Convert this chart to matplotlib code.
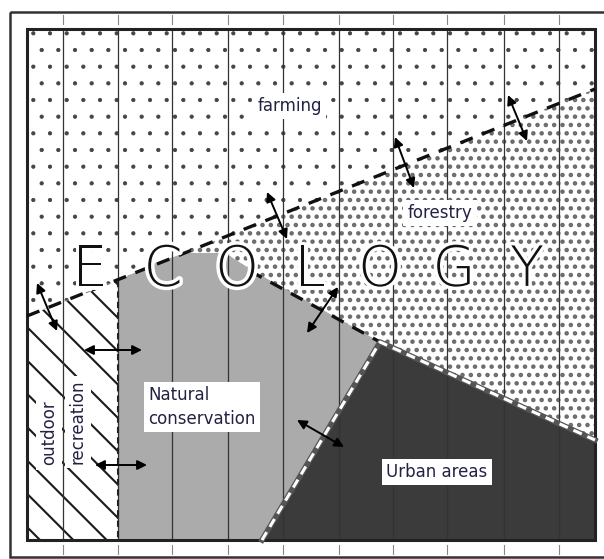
import numpy as np
import matplotlib.pyplot as plt
from matplotlib.patches import Polygon, Rectangle
import matplotlib.patheffects as pe

# diagram geometry (pixel units, y down)
inner_box = (27, 29, 595, 540)
grid_x = [63, 118, 172, 228, 283, 339, 393, 447, 504, 559]

farm_line = [(27, 316), (595, 89)]
forestry_poly = [(27, 316), (595, 89), (595, 540), (27, 540)]
conservation_poly = [(118, 281), (150, 265), (185, 253), (225, 253), (255, 272),
                     (380, 342), (262, 540), (118, 540)]
urban_poly = [(380, 342), (595, 440), (595, 540), (262, 540)]
recreation_poly = [(27, 316), (118, 281), (118, 540), (27, 540)]

cons_forest_edge = [(250, 271), (380, 342)]
rec_cons_edge = [(118, 281), (118, 540)]
urban_edge = [(262, 540), (380, 342), (595, 440)]

arrows = [((508, 95), (527, 141)), ((395, 137), (414, 188)), ((267, 192), (287, 239)),
          ((37, 283), (57, 331)), ((338, 287), (307, 333)), ((84, 350), (142, 350)),
          ((95, 465), (147, 465)), ((297, 420), (344, 447))]

eco_letters = ["E", "C", "O", "L", "O", "G", "Y"]
eco_x = [90, 163, 237, 310, 380, 454, 527]
eco_y = 271

labels = ["farming", "forestry", "Natural\nconservation", "Urban areas"]
label_xy = [(290, 106), (440, 213), (148, 407), (437, 472)]
label_ha = ["center", "center", "left", "center"]
rot_labels = ["outdoor", "recreation"]
rot_xy = [(49, 433), (78, 422)]

fig = plt.figure(figsize=(6.04, 5.59), dpi=100)
ax = fig.add_axes([0, 0, 1, 1])
ax.set_xlim(0, 604)
ax.set_ylim(559, 0)
ax.axis('off')


def region(pts, fc, ec, hatch=None, hlw=1.0):
    p = Polygon(pts, closed=True, facecolor=fc, edgecolor=ec, lw=0, hatch=hatch, zorder=1)
    if hasattr(p, 'set_hatch_linewidth'):
        p.set_hatch_linewidth(hlw)
    ax.add_patch(p)


x0, y0, x1, y1 = inner_box
region([(x0, y0), (x1, y0), (x1, y1), (x0, y1)], 'white', '#444444', '.', 0.6)
region(forestry_poly, 'white', '#6a6a6a', '..', 2.0)
region(conservation_poly, '#ababab', '#ababab')
region(urban_poly, '#3b3b3b', '#3b3b3b')
region(recreation_poly, 'white', '#1a1a1a', '\\', 1.5)

# vertical grid
for gx in grid_x:
    ax.plot([gx, gx], [y0, y1], color='#333333', lw=0.9, zorder=2)
    ax.plot([gx, gx], [15, 24], color='#888888', lw=0.8, zorder=2)
    ax.plot([gx, gx], [545, 554], color='#888888', lw=0.8, zorder=2)

# frames
ax.add_patch(Rectangle((x0, y0), x1 - x0, y1 - y0, fill=False, ec='#222222', lw=2.2, zorder=3))
ax.add_patch(Rectangle((10, 12), 600, 545, fill=False, ec='#333333', lw=1.8, zorder=3))

# boundaries
for line in [farm_line, cons_forest_edge]:
    xs, ys = zip(*line)
    ax.plot(xs, ys, color='#111111', lw=2.4, dashes=(4, 3), zorder=3)
xs, ys = zip(*rec_cons_edge)
ax.plot(xs, ys, color='#222222', lw=1.5, dashes=(3, 2), zorder=3)
xs, ys = zip(*urban_edge)
ax.plot(xs, ys, color='#555555', lw=4.0, zorder=3)
ax.plot(xs, ys, color='white', lw=2.2, dashes=(3, 2), zorder=3)

for a, b in arrows:
    ax.annotate('', xy=b, xytext=a,
                arrowprops=dict(arrowstyle='<|-|>', color='black', lw=1.4,
                                mutation_scale=14, shrinkA=0, shrinkB=0), zorder=4)

for ch, ex in zip(eco_letters, eco_x):
    ax.text(ex, eco_y, ch, fontsize=40, family=['DejaVu Sans'], fontweight='light',
            ha='center', va='center', color='#111111', zorder=5,
            path_effects=[pe.withStroke(linewidth=5, foreground='white')])

box = dict(boxstyle='square,pad=0.25', fc='white', ec='none')
for t, (lx, ly), ha in zip(labels, label_xy, label_ha):
    ax.text(lx, ly, t, fontsize=12, ha=ha, va='center', color='#222244',
            linespacing=1.4, bbox=box, zorder=6)
for t, (lx, ly) in zip(rot_labels, rot_xy):
    ax.text(lx, ly, t, fontsize=12, ha='center', va='center', color='#222244',
            rotation=90, bbox=box, zorder=6)

fig.savefig('out.png', dpi=100)
